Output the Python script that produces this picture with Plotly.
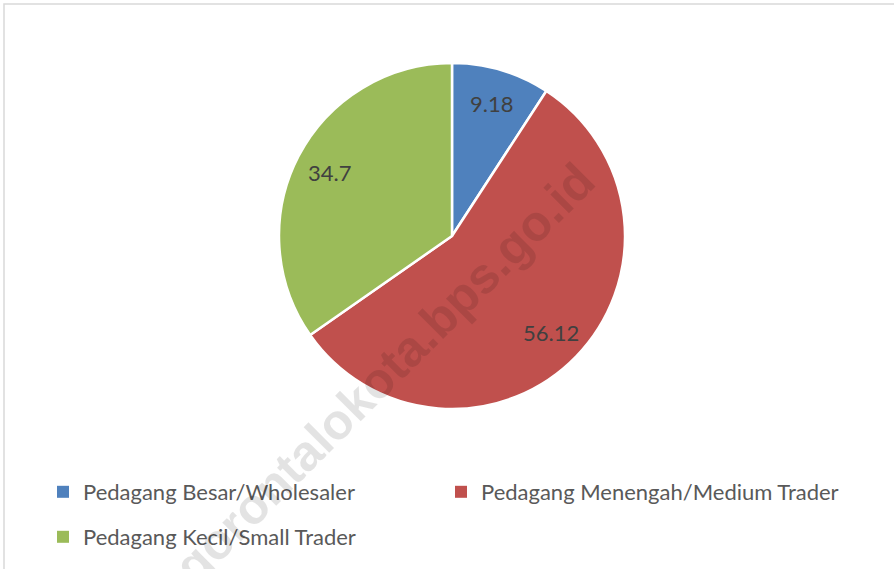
import math
import plotly.graph_objects as go

labels = ["Pedagang Besar/Wholesaler", "Pedagang Menengah/Medium Trader", "Pedagang Kecil/Small Trader"]
values = [9.18, 56.12, 34.7]
colors = ["#4F81BD", "#C0504D", "#9BBB59"]

W, H = 894, 569


def px_x(X):
    return X / W


def px_y(Y):
    return 1 - Y / H


cx, cy, R = 452, 236, 173

fig = go.Figure()
legends = ["legend", "legend2", "legend3"]

fig.add_trace(go.Pie(
    labels=labels, values=values, sort=False, direction="clockwise", rotation=0,
    marker=dict(colors=colors, line=dict(color="white", width=2.5)),
    textinfo="none", hoverinfo="label+value",
    domain=dict(x=[px_x(cx - R), px_x(cx + R)], y=[px_y(cy + R), px_y(cy - R)]),
    showlegend=False,
))

# legend entries
leg_pos = [(43, 492), (441, 492), (43, 537)]
for i, (lab, col) in enumerate(zip(labels, colors)):
    fig.add_trace(go.Pie(
        labels=[lab], values=[1], marker=dict(colors=[col]), textinfo="none",
        domain=dict(x=[0, 0.0001], y=[0, 0.0001]), legend=legends[i], hoverinfo="skip",
        showlegend=True,
    ))

# data labels positioned from the values
total = sum(values)
cum = 0
for val in values:
    f = (cum + val / 2) / total
    th = 2 * math.pi * f
    lx = cx + 0.8 * R * math.sin(th)
    ly = cy - 0.8 * R * math.cos(th)
    fig.add_annotation(x=px_x(lx), y=px_y(ly), xref="paper", yref="paper",
                       xanchor="center", yanchor="middle",
                       text=f"{val:g}", showarrow=False,
                       font=dict(family="Lato", size=22, color="#404040"))
    cum += val

# watermark
fig.add_annotation(x=px_x(384), y=px_y(374), xref="paper", yref="paper",
                   text="<b>gorontalokota.bps.go.id</b>", showarrow=False, textangle=-45,
                   font=dict(family="Liberation Sans", size=50, color="rgba(0,0,0,0.11)"),
                   xanchor="center", yanchor="middle")

# chart border
fig.add_shape(type="rect", xref="paper", yref="paper",
              x0=px_x(4), x1=1.05, y0=-0.05, y1=px_y(4),
              line=dict(color="#D9D9D9", width=1.5), fillcolor="rgba(0,0,0,0)")

leg_common = dict(orientation="h", xanchor="left", yanchor="middle",
                  bgcolor="rgba(0,0,0,0)", borderwidth=0,
                  font=dict(family="Lato", size=22, color="#595959"))
layout_leg = {}
for i, (lx, ly) in enumerate(leg_pos):
    layout_leg[legends[i]] = dict(x=px_x(lx), y=px_y(ly), **leg_common)

fig.update_layout(
    width=W, height=H, margin=dict(l=0, r=0, t=0, b=0),
    paper_bgcolor="white", plot_bgcolor="white",
    **layout_leg,
)

fig.write_html("out.html", config={"displayModeBar": False},
               post_script="document.body.style.margin='0';document.body.style.overflow='hidden';")
